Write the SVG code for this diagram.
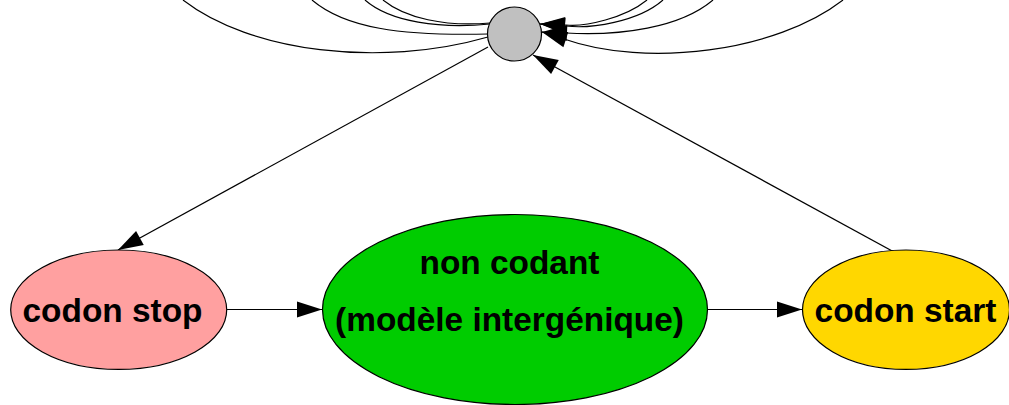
<svg xmlns="http://www.w3.org/2000/svg" width="1009" height="405" viewBox="0 0 1009 405">
<defs>
<style>
.edge{fill:none;stroke:#000;stroke-width:1.2}
.node{stroke:#000;stroke-width:1.2}
.lbl{font-family:"Liberation Sans",Arial,sans-serif;font-weight:bold;font-size:33.4px;fill:#000;text-anchor:middle}
</style>
<marker id="arr" markerUnits="userSpaceOnUse" markerWidth="26" markerHeight="18" refX="25" refY="8" orient="auto" overflow="visible">
<path d="M0,0 L25,8 L0,16 Z" fill="#000"/>
</marker>
</defs>
<rect width="1009" height="405" fill="#fff"/>
<g id="connectors">
<path class="edge" d="M183,0 C250,52 380,68 488,37"/>
<path class="edge" d="M312,0 C345,28 400,36 488,34"/>
<path class="edge" d="M365,0 C390,22 440,29 490,24"/>
<path class="edge" d="M383,0 C405,18 445,27 490,23"/>
<path class="edge" d="M843,0 C776,52 646,68 564,39 L542,32" marker-end="url(#arr)"/>
<path class="edge" d="M713,0 C680,28 620,36 566,33 L542,32" marker-end="url(#arr)"/>
<path class="edge" d="M663,0 C638,22 590,29 566,26 L540,24" marker-end="url(#arr)"/>
<path class="edge" d="M647,0 C625,18 585,27 566,25 L540,24" marker-end="url(#arr)"/>
<path class="edge" d="M488,47 L118,250" marker-end="url(#arr)"/>
<path class="edge" d="M905,258 L533,55" marker-end="url(#arr)"/>
<path class="edge" d="M227,309.5 L322,309.5" marker-end="url(#arr)"/>
<path class="edge" d="M707,309.5 L802,309.5" marker-end="url(#arr)"/>
</g>
<g id="node-hub">
<circle class="node" cx="514.5" cy="34" r="27" fill="#c0c0c0"/>
</g>
<g id="node-stop">
<ellipse class="node" cx="118.7" cy="309.7" rx="108" ry="59.7" fill="#ffa0a0"/>
<text class="lbl" x="112.5" y="322">codon stop</text>
</g>
<g id="node-noncodant">
<ellipse class="node" cx="515" cy="309.5" rx="192.5" ry="95" fill="#00cc00"/>
<text class="lbl" x="509.5" y="273.5">non codant</text>
<text class="lbl" x="509.5" y="331">(modèle intergénique)</text>
</g>
<g id="node-start">
<ellipse class="node" cx="906" cy="309.7" rx="103.5" ry="59.7" fill="#ffd700"/>
<text class="lbl" x="905.5" y="322">codon start</text>
</g>
</svg>
